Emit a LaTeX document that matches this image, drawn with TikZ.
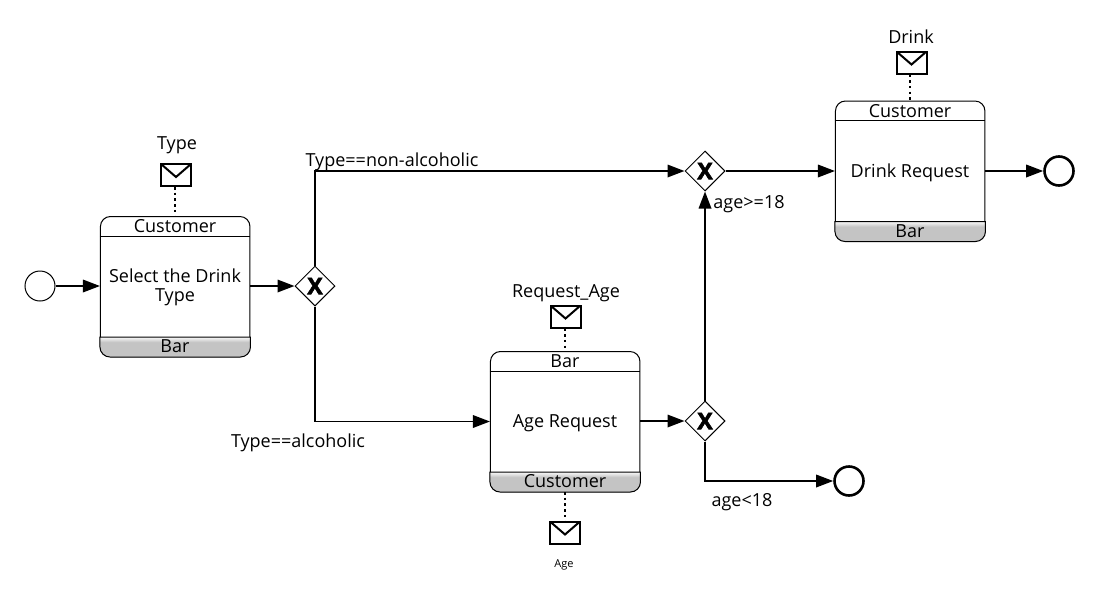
\documentclass[tikz,border=0pt]{standalone}
\usepackage{fontspec}
\setmainfont{Open Sans}
\newfontfamily\gatefont[BoldFeatures={FakeBold=2.5}]{Open Sans}
\usetikzlibrary{shapes.geometric,arrows.meta}

\definecolor{bandgray}{HTML}{C4C4C4}
\pgfdeclareverticalshading{bandshade}{100bp}{color(0bp)=(bandgray); color(62bp)=(bandgray); color(75bp)=(white!90!bandgray); color(100bp)=(white)}

\tikzset{
    taskbox/.style={draw=black,fill=white,line width=1pt,rounded corners=10pt,minimum width=149.5pt,minimum height=140pt,inner sep=0pt,align=center},
    tasklabel/.style={inner sep=0pt,anchor=center},
    band/.style={draw=black,line width=1pt,shade,shading=bandshade},
    headline/.style={draw=black,line width=1pt},
    startevent/.style={draw=black,fill=white,circle,line width=1pt,minimum size=30pt,inner sep=0pt},
    endevent/.style={draw=black,fill=white,circle,line width=2.6pt,minimum size=29pt,inner sep=0pt},
    gateway/.style={draw=black,fill=white,diamond,line width=1pt,minimum size=40pt,inner sep=0pt,font=\fontsize{23}{23}\gatefont\bfseries},
    envelope/.style={draw=black,fill=white,rectangle,line width=2pt,minimum width=30pt,minimum height=22pt,inner sep=0pt,
        path picture={\draw[line width=2pt] (path picture bounding box.north west) -- ([yshift=-13pt]path picture bounding box.north) -- (path picture bounding box.north east);}},
    flow/.style={draw=black,line width=1.8pt,-{Triangle[length=17pt,width=12.5pt]}},
    assoc/.style={draw=black,line width=2.2pt,dash pattern=on 2.5pt off 3.2pt},
    flowlabel/.style={inner sep=0pt,anchor=center},
    every node/.style={font=\fontsize{18}{18.5}\selectfont}
}

\begin{document}
\begin{tikzpicture}[x=1pt,y=-1pt]

    \useasboundingbox (0,0) rectangle (1098,592);

    % these are the tasks
    \node[taskbox] (select) at (175.2,286.5) {};
    \node[taskbox] (age) at (565.2,421.5) {};
    \node[taskbox] (drink) at (910.2,171) {};

    \draw[headline] ([yshift=-20pt]select.north west) -- ([yshift=-20pt]select.north east);
    \draw[headline] ([yshift=-20pt]age.north west) -- ([yshift=-20pt]age.north east);
    \draw[headline] ([yshift=-20pt]drink.north west) -- ([yshift=-20pt]drink.north east);

    \draw[band] ([yshift=20pt]select.south west) [rounded corners=10pt] -- (select.south west) -- (select.south east) [sharp corners] -- ([yshift=20pt]select.south east) -- cycle;
    \draw[band] ([yshift=20pt]age.south west) [rounded corners=10pt] -- (age.south west) -- (age.south east) [sharp corners] -- ([yshift=20pt]age.south east) -- cycle;
    \draw[band] ([yshift=20pt]drink.south west) [rounded corners=10pt] -- (drink.south west) -- (drink.south east) [sharp corners] -- ([yshift=20pt]drink.south east) -- cycle;

    \node[tasklabel,align=center] (selecttext) at (175,287.5) {Select the Drink\\Type};
    \node[tasklabel] (agetext) at (565,423) {Age Request};
    \node[tasklabel] (drinktext) at (910,173) {Drink Request};

    \node[tasklabel] (selecttop) at (175,226.5) {Customer};
    \node[tasklabel] (selectbottom) at (175,346.5) {Bar};
    \node[tasklabel] (agetop) at (565,361.5) {Bar};
    \node[tasklabel] (agebottom) at (565,481.5) {Customer};
    \node[tasklabel] (drinktop) at (910,111.5) {Customer};
    \node[tasklabel] (drinkbottom) at (910,231.5) {Bar};

    % these are the events and gateways
    \node[startevent] (start) at (40,286) {};
    \node[endevent] (endone) at (1059,171) {};
    \node[endevent] (endtwo) at (849,481) {};
    \node[gateway] (typegate) at (315,286) {X};
    \node[gateway] (joingate) at (705,171) {X};
    \node[gateway] (agegate) at (705,421) {X};

    % these are the messages
    \node[envelope] (typemsg) at (176,175) {};
    \node[envelope] (requestmsg) at (565.5,316.5) {};
    \node[envelope] (agemsg) at (565,532.5) {};
    \node[envelope] (drinkmsg) at (911.5,62.5) {};

    \draw[assoc] (select.north |- typemsg.south) -- (select.north);
    \draw[assoc] (age.north |- requestmsg.south) -- (age.north);
    \draw[assoc] (age.south) -- (age.south |- agemsg.north);
    \draw[assoc] (drink.north |- drinkmsg.south) -- (drink.north);

    \node[flowlabel] (typelabel) at (177,145.5) {Type};
    \node[flowlabel] (requestlabel) at (566,293.5) {Request\_Age};
    \node[flowlabel,font=\fontsize{11}{13}\selectfont] (agelabel) at (564,564.5) {Age};
    \node[flowlabel] (drinklabel) at (911,36.5) {Drink};

    % these are the flows
    \draw[flow] (start) -- (select.west |- start);
    \draw[flow] (select.east |- typegate) -- (typegate);
    \draw[flow] (typegate) |- (joingate);
    \draw[flow] (typegate) |- (age.west);
    \draw[flow] (age.east |- agegate) -- (agegate);
    \draw[flow] (agegate) -- (joingate);
    \draw[flow] (agegate) |- (endtwo);
    \draw[flow] (joingate) -- (drink.west |- joingate);
    \draw[flow] (drink.east |- endone) -- (endone);

    \node[flowlabel] (nonalcohol) at (392,162) {Type==non-alcoholic};
    \node[flowlabel] (alcohol) at (298,443) {Type==alcoholic};
    \node[flowlabel] (adult) at (749,204) {age>=18};
    \node[flowlabel] (minor) at (742,502) {age<18};

\end{tikzpicture}
\end{document}
